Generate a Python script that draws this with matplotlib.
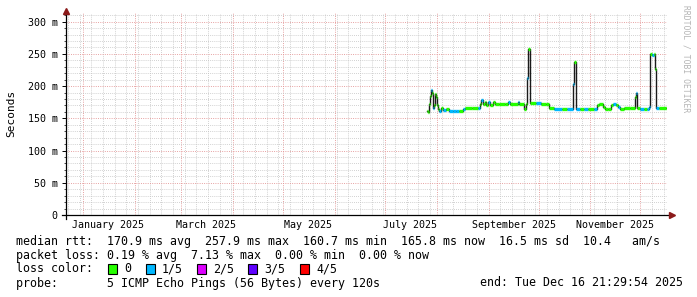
import pandas as pd
import numpy as np
import matplotlib.pyplot as plt
import matplotlib.dates as mdates
from matplotlib.patches import Rectangle
from matplotlib.ticker import MultipleLocator, FuncFormatter
from matplotlib.transforms import blended_transform_factory

plt.rcParams['font.family'] = 'DejaVu Sans Mono'

# median rtt readings, days since 2025-01-01
days = [206.4, 207.0, 207.6, 208.2, 208.8, 209.4, 210.0, 210.6, 211.2, 211.8,
        212.4, 213.0, 213.6, 214.8, 216.0, 217.8, 219.6, 222.0, 223.8, 225.6,
        227.4, 228.6, 232.8, 236.4, 237.6, 238.2, 239.4, 240.6, 241.7, 242.9,
        244.1, 245.4, 246.6, 249.0, 252.6, 254.4, 255.6, 260.4, 261.5, 264.5,
        265.7, 266.3, 266.9, 268.1, 271.7, 274.7, 277.7, 279.5, 282.0, 286.8,
        289.7, 293.3, 293.9, 295.1, 297.5, 299.9, 302.3, 305.9, 307.7, 308.9,
        311.3, 312.5, 314.3, 316.1, 317.3, 319.1, 320.3, 321.5, 323.9, 327.5,
        330.5, 331.1, 331.7, 333.5, 335.9, 337.7, 338.9, 339.5, 340.7, 341.9,
        342.5, 343.1, 344.9, 349.5]
rtt_ms = [161, 160, 172, 185, 194, 190, 166, 170, 188, 183,
          170, 165, 161, 166, 163, 164, 162, 161, 160.7, 162,
          165, 166, 166, 166, 172, 178, 172, 176, 170, 175,
          171, 176, 172, 172, 173, 176, 173, 176, 173, 164,
          172, 212, 257.9, 174, 174, 173, 172, 166, 165, 165,
          164, 203, 238, 165, 164, 165, 164, 165, 171, 173,
          168, 165, 164, 171, 173, 171, 168, 165, 166, 166,
          183, 190, 166, 164, 165, 164, 167, 250, 249, 250,
          226, 166, 166, 165.8]
loss = [0, 0, 0, 0, 1, 0, 1, 0, 0, 0,
        0, 0, 1, 0, 1, 0, 1, 1, 1, 0,
        1, 0, 0, 1, 0, 1, 0, 0, 0, 1,
        0, 0, 0, 0, 0, 1, 0, 1, 0, 0,
        0, 1, 0, 0, 1, 0, 0, 0, 1, 0,
        1, 1, 0, 1, 0, 1, 0, 1, 0, 0,
        0, 0, 0, 0, 1, 0, 1, 0, 0, 0,
        0, 1, 0, 1, 0, 1, 1, 0, 1, 0,
        0, 1, 0, 0]

loss_labels = ['0', '1/5', '2/5', '3/5', '4/5']
loss_colors = ['#26ff00', '#00b8ff', '#dd00ff', '#5e00ff', '#ff0000']
label_months = [1, 3, 5, 7, 9, 11]

base = pd.Timestamp('2025-01-01')
end = pd.Timestamp('2025-12-16 21:29:54')
start = end - pd.Timedelta(days=360)

t = base + pd.to_timedelta(days, unit='D')
t_all = list(t) + [end]
v_all = rtt_ms + [rtt_ms[-1]]

W, H = 697, 297
fig = plt.figure(figsize=(W / 100, H / 100), dpi=100)
fig.patch.set_facecolor('white')
x0, x1, y0, y1 = 66, 667, 215, 13
ax = fig.add_axes([x0 / W, 1 - y0 / H, (x1 - x0) / W, (y0 - y1) / H])
ymax = (y0 - y1) / 0.6444
ax.set_xlim(start, end)
ax.set_ylim(0, ymax)

# grid
ax.xaxis.set_major_locator(mdates.MonthLocator(bymonthday=1))
ax.xaxis.set_minor_locator(mdates.WeekdayLocator(byweekday=mdates.MO))
ax.yaxis.set_major_locator(MultipleLocator(50))
ax.yaxis.set_minor_locator(MultipleLocator(10))
ax.grid(which='minor', color='#c2c2c2', linestyle=(0, (1, 1.5)), linewidth=0.6)
ax.grid(which='major', color='#e39494', linestyle=(0, (1, 1.5)), linewidth=0.65)
ax.set_axisbelow(True)
ax.xaxis.set_major_formatter(FuncFormatter(lambda v, p: ''))
ax.yaxis.set_major_formatter(FuncFormatter(lambda v, p: '0' if v == 0 else '%d m' % v))
ax.tick_params(axis='y', which='major', length=3, width=0.7, labelsize=7.2, pad=3)
ax.tick_params(axis='y', which='minor', length=1.5, width=0.5)
ax.tick_params(axis='x', which='both', length=0)
for s in ax.spines.values():
    s.set_visible(False)

# month labels
tr = blended_transform_factory(ax.transData, ax.transAxes)
for m in label_months:
    d = pd.Timestamp(2025, m, 16)
    ax.text(mdates.date2num(d), -10 / (y0 - y1), d.strftime('%B %Y'), transform=tr,
            ha='center', va='center', fontsize=7.2)

# data
ax.step(t_all, v_all, where='post', color='#1a1a1a', linewidth=1.0, zorder=3)
ax.hlines(rtt_ms, t_all[:-1], t_all[1:], colors=[loss_colors[l] for l in loss],
          linewidth=2.4, zorder=4)

# axes with arrows
ax.plot([-4 / (x1 - x0), 1.008], [0, 0], transform=ax.transAxes, color='black',
        lw=0.9, clip_on=False, zorder=5)
ax.plot([1.008], [0], transform=ax.transAxes, marker='>', color='#8b1a1a',
        markersize=4, clip_on=False, zorder=5)
ax.plot([0, 0], [-4 / (y0 - y1), 1.01], transform=ax.transAxes, color='black',
        lw=0.9, clip_on=False, zorder=5)
ax.plot([0], [1.01], transform=ax.transAxes, marker='^', color='#8b1a1a',
        markersize=4, clip_on=False, zorder=5)

fig.text(11 / W, 1 - 113 / H, 'Seconds', rotation=90, ha='center', va='center', fontsize=8)
fig.text(686 / W, 1 - 5 / H, 'RRDTOOL / TOBI OETIKER', rotation=270, ha='center',
         va='top', fontsize=5.8, color='#b4b4b4')

# legend
fs = 8.4
fig.text(16 / W, 1 - 241 / H,
         'median rtt:  170.9 ms avg  257.9 ms max  160.7 ms min  165.8 ms now  16.5 ms sd  10.4   am/s',
         va='center', fontsize=fs)
fig.text(16 / W, 1 - 255 / H,
         'packet loss: 0.19 % avg  7.13 % max  0.00 % min  0.00 % now',
         va='center', fontsize=fs)
fig.text(16 / W, 1 - 269 / H, 'loss color:', va='center', fontsize=fs)
box_x = [108, 146, 197, 248, 300]
for bx, c, lab in zip(box_x, loss_colors, loss_labels):
    fig.patches.append(Rectangle((bx / W, 1 - 274 / H), 9 / W, 10 / H, facecolor=c,
                                 edgecolor='black', linewidth=0.8, transform=fig.transFigure))
    fig.text((bx + 16) / W, 1 - 269 / H, lab, va='center', fontsize=fs)
fig.text(16 / W, 1 - 283 / H, 'probe:       5 ICMP Echo Pings (56 Bytes) every 120s',
         va='center', fontsize=fs)
fig.text(683 / W, 1 - 283 / H, 'end: Tue Dec 16 21:29:54 2025', va='center', ha='right',
         fontsize=fs)

fig.savefig('out.png', dpi=100, facecolor='white')
